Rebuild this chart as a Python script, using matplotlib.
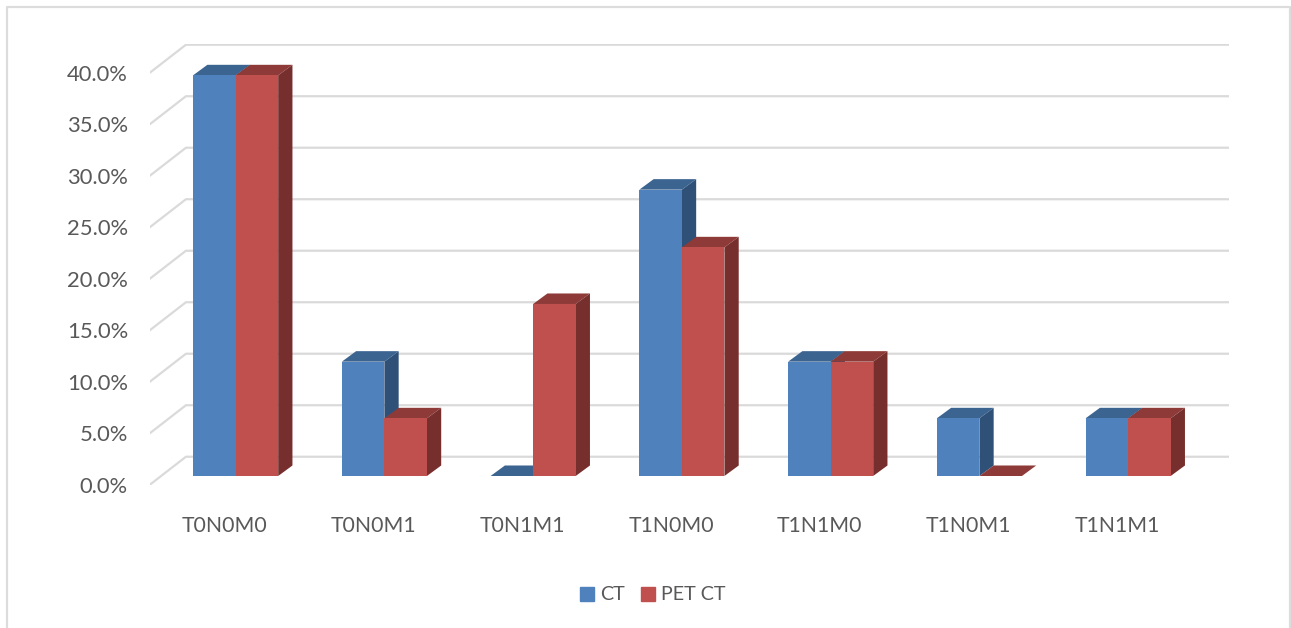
import matplotlib
matplotlib.use("Agg")
import matplotlib.pyplot as plt
from matplotlib.lines import Line2D

categories = ["T0N0M0", "T0N0M1", "T0N1M1", "T1N0M0", "T1N1M0", "T1N0M1", "T1N1M1"]
ct_values = [38.9, 11.1, 0.0, 27.8, 11.1, 5.6, 5.6]
pet_ct_values = [38.9, 5.6, 16.7, 22.2, 11.1, 0.0, 5.6]
axis_values = [0, 5, 10, 15, 20, 25, 30, 35, 40]

W, H = 1291, 628
plt.rcParams["font.family"] = ["Lato", "DejaVu Sans"]

fig = plt.figure(figsize=(W / 100, H / 100), dpi=100, facecolor="white")

# axes box in pixels, measured from the top left of the figure
left, right, top, bottom = 149.5, 1229, 44, 485
ax = fig.add_axes([left / W, 1 - bottom / H, (right - left) / W, (bottom - top) / H])
ax.patch.set_alpha(0)
ax.set_xlim(-0.579, 6.678)
ax.set_ylim(-0.874, 41.94)
for s in ax.spines.values():
    s.set_visible(False)

# fake 3D: how far the bar depth and the back wall shift, in data units
bar_w = 0.286
depth_x, depth_y = 0.096, 1.02
wall_x = 0.245
wall_front, wall_back = -0.874, 1.87
grid_color = "#DADADA"


def draw_bar(x0, value, front, top_face, side):
    x1 = x0 + bar_w
    ax.fill([x0, x1, x1 + depth_x, x0 + depth_x],
            [value, value, value + depth_y, value + depth_y],
            color=top_face, lw=0, zorder=3)
    ax.fill([x1, x1 + depth_x, x1 + depth_x, x1],
            [0, depth_y, value + depth_y, value],
            color=side, lw=0, zorder=3)
    return ax.bar(x0, value, bar_w, align="edge", color=front, lw=0, zorder=3)


# gridlines run along the back wall and bend forward down the side wall
x_start = ax.get_xlim()[0]
for v in axis_values:
    ax.plot([x_start, x_start + wall_x, ax.get_xlim()[1]],
            [v + wall_front, v + wall_back, v + wall_back],
            color=grid_color, lw=1.6, zorder=1, solid_capstyle="butt")

for i in range(len(categories)):
    draw_bar(i - bar_w, ct_values[i], "#4F81BD", "#3C6491", "#2F5178")
    draw_bar(i, pet_ct_values[i], "#C0504D", "#8E3A38", "#772F2D")

ax.set_yticks([v + wall_front for v in axis_values])
ax.set_yticklabels([f"{v:.1f}%" for v in axis_values], fontsize=15.8, color="#595959")
ax.set_xticks([i - 0.073 for i in range(len(categories))])
ax.set_xticklabels(categories, fontsize=15.3, color="#595959")
ax.tick_params(axis="y", length=0, pad=15.5)
ax.tick_params(axis="x", length=0, pad=22)

handles = [
    Line2D([], [], ls="", marker="s", ms=9.5, color="#4F81BD", label="CT"),
    Line2D([], [], ls="", marker="s", ms=9.5, color="#C0504D", label="PET CT"),
]
fig.legend(handles=handles, loc="center", bbox_to_anchor=(651 / W, 1 - 595 / H),
           ncol=2, frameon=False, fontsize=14.2, labelcolor="#595959",
           handlelength=1, handletextpad=0.17, columnspacing=0.67, borderpad=0)

# chart frame, open at the bottom of the image
frame_x = [6.5 / W, 6.5 / W, 1289.5 / W, 1289.5 / W]
frame_y = [0, 1 - 6.5 / H, 1 - 6.5 / H, 0]
fig.add_artist(Line2D(frame_x, frame_y, color="#DCDCDC", lw=1.6))

fig.savefig("out.png", dpi=100)
